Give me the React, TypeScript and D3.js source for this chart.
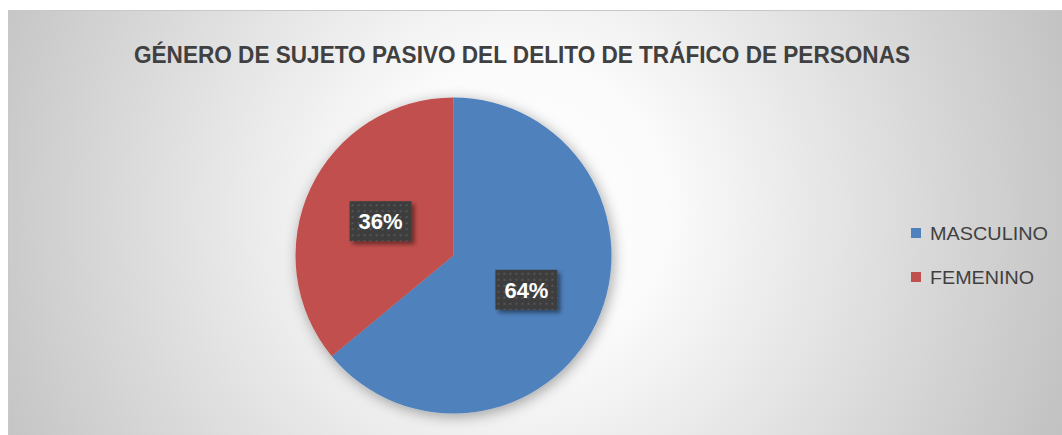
import React from "react";
import * as d3 from "d3";

const categories = ["MASCULINO", "FEMENINO"];
const values = [64, 36];
const colors = ["#4f81bd", "#c0504d"];
const title = "GÉNERO DE SUJETO PASIVO DEL DELITO DE TRÁFICO DE PERSONAS";

export default function App() {
  const W = 1062;
  const H = 435;
  const cx = 453.5;
  const cy = 255.5;
  const r = 158;
  const pie = d3.pie<number>().sort(null).value((d) => d)(values);
  const arc = d3.arc<d3.PieArcDatum<number>>().innerRadius(0).outerRadius(r);
  const labelArc = d3.arc<d3.PieArcDatum<number>>().innerRadius(r * 0.51).outerRadius(r * 0.51);
  const total = d3.sum(values);
  const fmt = d3.format(".0%");

  return (
    <svg width={W} height={H} style={{ position: "absolute", left: 0, top: 0 }}>
      <defs>
        <radialGradient id="bg" gradientUnits="userSpaceOnUse" cx={520} cy={210} r={580}>
          <stop offset="0" stopColor="#ffffff" />
          <stop offset="0.25" stopColor="#fbfbfb" />
          <stop offset="1" stopColor="#c2c2c2" />
        </radialGradient>
        <filter id="pieShadow" x="-20%" y="-20%" width="140%" height="140%">
          <feDropShadow dx="2" dy="3" stdDeviation="7" floodColor="#000" floodOpacity="0.35" />
        </filter>
        <filter id="boxShadow" x="-30%" y="-30%" width="160%" height="160%">
          <feDropShadow dx="3" dy="3" stdDeviation="2" floodColor="#000" floodOpacity="0.45" />
        </filter>
        <pattern id="dots" patternUnits="userSpaceOnUse" width="6" height="6">
          <rect width="6" height="6" fill="#3d3d3d" />
          <rect x="1" y="1" width="2" height="2" fill="#555555" />
        </pattern>
      </defs>
      <rect x={8.5} y={10.5} width={W} height={H} fill="url(#bg)" stroke="#c8c8c8" strokeWidth={1} />
      <text
        x={522}
        y={63}
        textAnchor="middle"
        fontFamily="'Liberation Sans', Arial, sans-serif"
        fontWeight="bold"
        fontSize={23}
        fill="#404040"
        textLength={776}
        lengthAdjust="spacingAndGlyphs"
      >
        {title}
      </text>
      <g transform={`translate(${cx},${cy})`}>
        <g filter="url(#pieShadow)">
          {pie.map((d, i) => (
            <path key={i} d={arc(d) || ""} fill={colors[i]} />
          ))}
        </g>
        {pie.map((d, i) => {
          const [lx, ly] = labelArc.centroid(d);
          const bw = 62;
          const bh = 40;
          return (
            <g key={"l" + i} transform={`translate(${lx},${ly})`}>
              <rect x={-bw / 2} y={-bh / 2} width={bw} height={bh} fill="url(#dots)" filter="url(#boxShadow)" />
              <text
                x={0}
                y={8}
                textAnchor="middle"
                fontFamily="'Liberation Sans', Arial, sans-serif"
                fontWeight="bold"
                fontSize={22}
                fill="#ffffff"
              >
                {fmt(d.data / total)}
              </text>
            </g>
          );
        })}
      </g>
      {categories.map((c, i) => (
        <g key={c} transform={`translate(911,${228 + i * 44})`}>
          <rect x={0} y={0} width={10} height={10} fill={colors[i]} />
          <text
            x={19}
            y={11.5}
            fontFamily="'Liberation Sans', Arial, sans-serif"
            fontSize={18}
            fill="#404040"
            textLength={c === "MASCULINO" ? 118 : 104}
            lengthAdjust="spacingAndGlyphs"
          >
            {c}
          </text>
        </g>
      ))}
    </svg>
  );
}
